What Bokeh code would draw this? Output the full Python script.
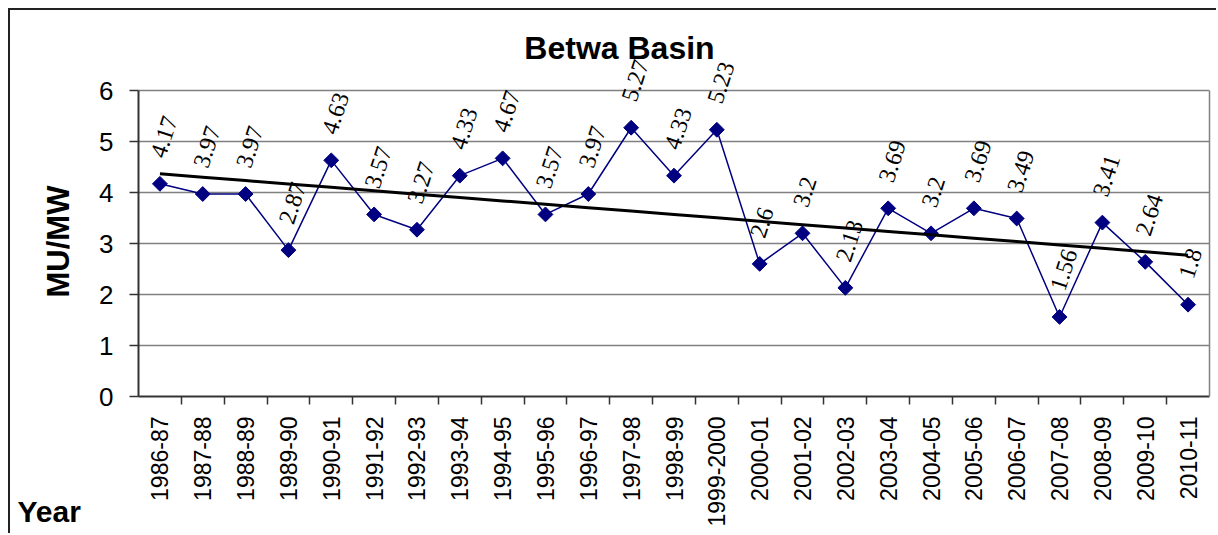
import math
import numpy as np
from bokeh.plotting import figure
from bokeh.models import (FactorRange, Range1d, CategoricalAxis, LinearAxis, FixedTicker,
                          ColumnDataSource, LabelSet, Label, Title)
from bokeh.embed import file_html
from bokeh.resources import INLINE

years = ["1986-87", "1987-88", "1988-89", "1989-90", "1990-91", "1991-92", "1992-93",
         "1993-94", "1994-95", "1995-96", "1996-97", "1997-98", "1998-99", "1999-2000",
         "2000-01", "2001-02", "2002-03", "2003-04", "2004-05", "2005-06", "2006-07",
         "2007-08", "2008-09", "2009-10", "2010-11"]
values = [4.17, 3.97, 3.97, 2.87, 4.63, 3.57, 3.27, 4.33, 4.67, 3.57, 3.97, 5.27, 4.33,
          5.23, 2.6, 3.2, 2.13, 3.69, 3.2, 3.69, 3.49, 1.56, 3.41, 2.64, 1.8]
value_labels = [str(v) for v in values]
y_ticks = [0, 1, 2, 3, 4, 5, 6]

FONT = "Liberation Sans"

# layout (pixels, figure coordinates)
W, H = 1208, 525
LEFT, RIGHT, BOTTOM = 128, 9, 139
TOP = 10                      # frame reaches up to leave room for rotated labels
PLOT_H = 306                  # pixel height of the 0..6 value band
frame_h = H - TOP - BOTTOM
y_end = y_ticks[-1] * frame_h / PLOT_H

# linear trend of the series
idx = np.arange(len(values))
slope, intercept = np.polyfit(idx, values, 1)
trend = list(intercept + slope * idx)

src = ColumnDataSource(dict(x=years, y=values, text=value_labels, trend=trend))

p = figure(x_range=FactorRange(factors=years), y_range=Range1d(y_ticks[0], y_end),
           width=W, height=H, output_backend="svg", toolbar_location=None,
           x_axis_location=None, min_border_left=LEFT, min_border_right=RIGHT,
           min_border_top=TOP, min_border_bottom=BOTTOM)
p.title.visible = False
p.styles = {"border-top": "2px solid #222222", "border-left": "2px solid #222222",
            "margin-left": "8px", "margin-top": "8px"}
p.background_fill_color = "white"
p.border_fill_color = "white"
p.outline_line_color = None

# boundary ticks between categories (one factor per boundary, trimmed to the frame)
boundaries = [f"b{i}" for i in range(len(years) + 1)]
p.extra_x_ranges = {"ticks": FactorRange(factors=boundaries, range_padding=-1.0 / len(boundaries),
                                         range_padding_units="percent")}
tick_axis = CategoricalAxis(x_range_name="ticks",
                            major_tick_out=8, major_tick_in=0,
                            major_label_text_font_size="0px", major_label_standoff=0,
                            axis_line_color="#333333", axis_line_width=2,
                            major_tick_line_color="#333333", major_tick_line_width=1.5)
p.add_layout(tick_axis, "below")
cat_axis = CategoricalAxis(major_tick_line_color=None, axis_line_color=None,
                           major_label_orientation=math.pi / 2,
                           major_label_text_font_size="23px", major_label_text_font=FONT,
                           major_label_text_color="black", major_label_standoff=6)
p.add_layout(cat_axis, "below")

# "Year" caption in the lower-left corner
p.add_layout(Title(text="Year", align="left", offset=-121, vertical_align="top", standoff=-70,
                   text_font_size="30px", text_font=FONT, text_font_style="bold",
                   text_color="black"), "below")

yax = p.yaxis[0]
yax.bounds = (y_ticks[0], y_ticks[-1])
yax.ticker = FixedTicker(ticks=y_ticks)
yax.major_tick_out = 9
yax.major_tick_in = 0
yax.minor_tick_line_color = None
yax.major_tick_line_color = "#333333"
yax.major_tick_line_width = 1.5
yax.axis_line_color = "#333333"
yax.axis_line_width = 2
yax.major_label_text_font_size = "26px"
yax.major_label_text_font = FONT
yax.major_label_text_color = "black"
yax.major_label_standoff = 16

# y axis title, centred on the 0..6 band
p.add_layout(Title(text="MU/MW", align="left", offset=99, standoff=42,
                   text_font_size="31px", text_font=FONT, text_font_style="bold",
                   text_color="black"), "left")

# right edge of the plot area
p.add_layout(LinearAxis(bounds=(y_ticks[0], y_ticks[-1]), ticker=FixedTicker(ticks=[]),
                        major_tick_line_color=None, minor_tick_line_color=None,
                        major_label_text_font_size="0px", major_label_standoff=0,
                        axis_line_color="#808080", axis_line_width=1.5), "right")

p.xgrid.grid_line_color = None
p.ygrid.grid_line_color = "#808080"
p.ygrid.grid_line_width = 1.5

p.line("x", "y", source=src, color="#000080", line_width=1.5)
p.scatter("x", "y", source=src, marker="square", size=10.5, angle=45, angle_units="deg",
          color="#000080")
p.line("x", "trend", source=src, color="black", line_width=3)

labels = LabelSet(x="x", y="y", text="text", source=src, angle=72, angle_units="deg",
                  text_align="left", text_baseline="middle", x_offset=-2, y_offset=27,
                  text_font_size="24px", text_font=FONT, text_color="black")
p.add_layout(labels)

p.add_layout(Label(x=481, y=349, x_units="screen", y_units="screen", text="Betwa Basin",
                   text_align="center", text_baseline="alphabetic",
                   text_font_size="32px", text_font=FONT, text_font_style="bold",
                   text_color="black"))

open("out.html", "w").write(file_html(p, INLINE))
